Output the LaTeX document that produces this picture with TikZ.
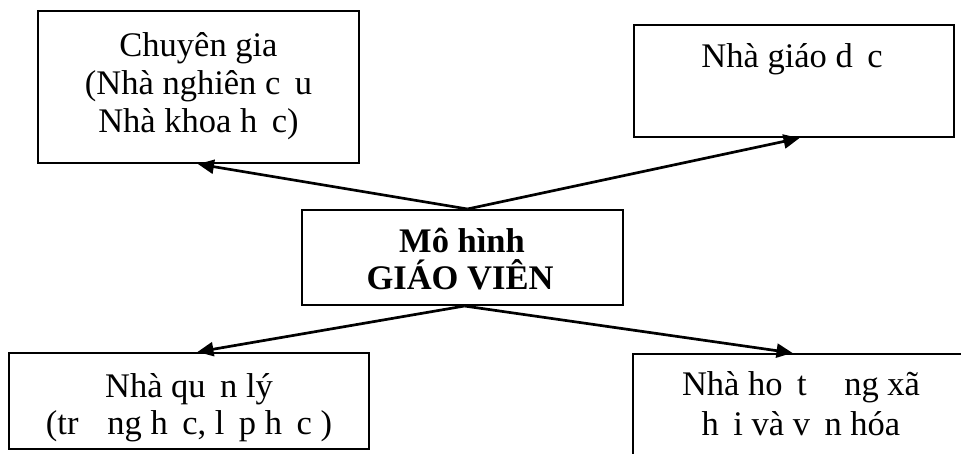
\documentclass[tikz,border=0pt]{standalone}
\usepackage{fontspec}
\setmainfont{Liberation Serif}
\usetikzlibrary{arrows.meta}
% blank left where a glyph is not set
\newcommand\miss{\hspace{0.42em}}
\tikzset{
  box/.style={draw, line width=2pt, inner sep=0pt, rectangle},
  txt/.style={anchor=base, inner sep=0pt, font=\fontsize{34.5}{40}\selectfont},
  boldtxt/.style={txt, font=\fontsize{34.5}{40}\selectfont\bfseries},
  link/.style={line width=2.7pt, -{Triangle[length=16pt,width=14pt]}, shorten >=0.5pt},
}
\begin{document}
\begin{tikzpicture}[x=1pt,y=-1pt]
\useasboundingbox (0,0) rectangle (961,454);

% boxes
\node[box, minimum width=321pt, minimum height=152pt] (tl) at (198.5,87) {};
\node[box, minimum width=320pt, minimum height=112pt] (tr) at (794,81) {};
\node[box, minimum width=321pt, minimum height=95pt]  (c)  at (462.5,257.5) {};
\node[box, minimum width=360pt, minimum height=96pt]  (bl) at (189,401) {};
\node[box, minimum width=360pt, minimum height=120pt] (br) at (813,414) {};

% texts
\node[txt] (tlA) at (198.5,57)  {Chuyên gia};
\node[txt] (tlB) at (198.5,95)  {(Nhà nghiên c\miss{}u};
\node[txt] (tlC) at (198.5,133) {Nhà khoa h\miss{}c)};

\node[txt] (trA) at (792,68) {Nhà giáo d\miss{}c};

\node[boldtxt] (cA) at (462,253) {Mô hình};
\node[boldtxt] (cB) at (460,290) {GIÁO VIÊN};

\node[txt] (blA) at (189,397) {Nhà qu\miss{}n lý};
\node[txt] (blB) at (189,434) {(tr\miss\miss{}ng h\miss{}c, l\miss{}p h\miss{}c )};

\node[txt] (brA) at (801,395) {Nhà ho\miss{}t \miss\miss{}ng xã};
\node[txt] (brB) at (801,435) {h\miss{}i và v\miss{}n hóa};

% connectors
\draw[link] ([xshift=5pt]c.north) -- ([xshift=-1pt]tl.south);
\draw[link] ([xshift=5pt]c.north) -- ([xshift=6pt]tr.south);
\draw[link] ([xshift=2pt]c.south) -- ([xshift=8pt]bl.north);
\draw[link] ([xshift=2pt]c.south) -- ([xshift=-20pt]br.north);
\end{tikzpicture}
\end{document}
